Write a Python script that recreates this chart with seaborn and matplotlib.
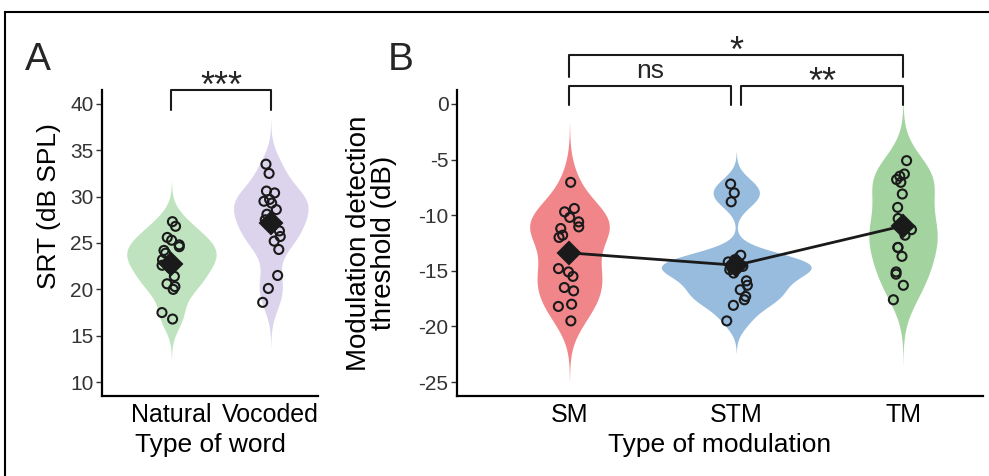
import numpy as np
import pandas as pd
import matplotlib
matplotlib.use('Agg')
import matplotlib.pyplot as plt
from matplotlib.patches import Rectangle
import seaborn as sns

# Panel A: speech reception thresholds
word_types = ['Natural', 'Vocoded']
natural = [27.3, 26.8, 25.6, 25.3, 24.8, 24.6, 24.2, 23.9, 23.2,
           22.9, 22.6, 22.3, 21.4, 20.6, 20.3, 20.0, 17.5, 16.8]
vocoded = [33.5, 32.5, 30.6, 30.4, 29.7, 29.5, 29.3, 28.6, 28.1,
           27.5, 27.0, 26.3, 25.7, 25.2, 24.3, 21.5, 20.1, 18.6]
colors_a = ['#bfe3bf', '#dcd3ec']

# Panel B: modulation detection thresholds
mod_types = ['SM', 'STM', 'TM']
sm = [-7.05, -9.4, -9.7, -10.2, -10.6, -11.05, -11.2, -11.8, -12.0,
      -13.6, -14.8, -15.1, -15.5, -16.5, -16.8, -18.0, -18.2, -19.5]
stm = [-7.2, -8.0, -8.8, -13.6, -14.0, -14.2, -14.4, -14.6, -14.7,
       -14.9, -15.2, -15.9, -16.3, -16.7, -17.3, -17.6, -18.1, -19.5]
tm = [-5.1, -6.3, -6.5, -6.8, -7.05, -8.1, -9.3, -10.3, -10.9,
      -11.3, -11.8, -12.9, -12.9, -13.7, -15.1, -15.3, -16.3, -17.6]
colors_b = ['#f0868a', '#97bcdd', '#a3d49f']

df_a = pd.DataFrame({'word': np.repeat(word_types, len(natural)),
                     'srt': natural + vocoded})
df_b = pd.DataFrame({'mod': np.repeat(mod_types, len(sm)),
                     'thr': sm + stm + tm})


def nrd0(kde):
    # R's default bandwidth (bw.nrd0) expressed as a scipy factor
    x = kde.dataset.ravel()
    sd = np.std(x, ddof=1)
    iqr = np.subtract(*np.percentile(x, [75, 25]))
    bw = 0.9 * min(sd, iqr / 1.34) * len(x) ** -0.2
    return bw / sd


sns.set_theme(style='ticks')
plt.rcParams['font.family'] = ['Liberation Sans', 'DejaVu Sans']
plt.rcParams['axes.unicode_minus'] = False

fig = plt.figure(figsize=(9.89, 4.76), dpi=100)
ax_a = fig.add_axes([0.103, 0.168, 0.219, 0.643])
ax_b = fig.add_axes([0.462, 0.168, 0.532, 0.643])


def draw_panel(ax, df, x, y, order, colors, line, jit):
    sns.violinplot(data=df, x=x, y=y, hue=x, order=order, hue_order=order,
                   palette=colors, inner=None, linewidth=0, cut=3,
                   bw_method=nrd0, width=0.9, saturation=1, common_norm=True,
                   legend=False, ax=ax)
    n0 = len(ax.collections)
    np.random.seed(3)
    sns.stripplot(data=df, x=x, y=y, order=order, jitter=jit, size=6.5,
                  color='black', edgecolor='#1a1a1a', linewidth=1.5, ax=ax)
    for c in ax.collections[n0:]:
        c.set_facecolor('none')
    sns.pointplot(data=df, x=x, y=y, order=order, estimator='mean',
                  errorbar=None, color='#1a1a1a', markers='D', markersize=11,
                  linestyle=line, linewidth=2.0, ax=ax)


draw_panel(ax_a, df_a, 'word', 'srt', word_types, colors_a, 'none', 0.1)
draw_panel(ax_b, df_b, 'mod', 'thr', mod_types, colors_b, '-', 0.07)

ax_a.set_xlim(-0.70, 1.48)
ax_a.set_ylim(8.5, 41.5)
ax_a.set_yticks([10, 15, 20, 25, 30, 35, 40])
ax_b.set_xlim(-0.675, 2.48)
ax_b.set_ylim(-26.25, 1.25)
ax_b.set_yticks([0, -5, -10, -15, -20, -25])

ax_a.set_xlabel('Type of word', fontsize=19, color='black', labelpad=4)
ax_a.set_ylabel('SRT (dB SPL)', fontsize=19, color='black')
ax_a.yaxis.set_label_coords(-0.19, 0.62)
ax_b.set_xlabel('Type of modulation', fontsize=19, color='black', labelpad=4)
ax_b.set_ylabel('Modulation detection\nthreshold (dB)', fontsize=20,
                color='black', linespacing=0.95)
ax_b.yaxis.set_label_coords(-0.114, 0.5)

for ax in (ax_a, ax_b):
    for s in ('top', 'right'):
        ax.spines[s].set_visible(False)
    for s in ('left', 'bottom'):
        ax.spines[s].set_linewidth(1.6)
        ax.spines[s].set_color('black')
    ax.tick_params(axis='y', labelsize=15, colors='#333333', length=4,
                   width=1.0, pad=2)
    ax.tick_params(axis='x', labelsize=18, length=0, pad=5)
    ax.tick_params(axis='x', colors='black')


def bracket(ax, x1, x2, y_low, y_top, label, ty, fs):
    ax.plot([x1, x1, x2, x2], [y_low, y_top, y_top, y_low], color='#1a1a1a',
            lw=1.5, clip_on=False)
    ax.text((x1 + x2) / 2, ty, label, ha='center', va='baseline',
            fontsize=fs, clip_on=False)


bracket(ax_a, 0, 1, 39.35, 41.5, '***', 40.8, 26)
bracket(ax_b, 0, 0.97, -0.1, 1.6, 'ns', 2.3, 19)
bracket(ax_b, 1.03, 2, -0.1, 1.6, '**', 1.0, 26)
bracket(ax_b, 0, 2, 2.4, 4.4, '*', 3.8, 26)

fig.text(0.025, 0.853, 'A', fontsize=28, ha='left', va='baseline')
fig.text(0.392, 0.853, 'B', fontsize=28, ha='left', va='baseline')

fig.patches.append(Rectangle((5 / 989, -0.1), 1.2, 1.1 - 12 / 476,
                             transform=fig.transFigure, fill=False,
                             ec='black', lw=1.5))

fig.savefig('out.png', dpi=100)
